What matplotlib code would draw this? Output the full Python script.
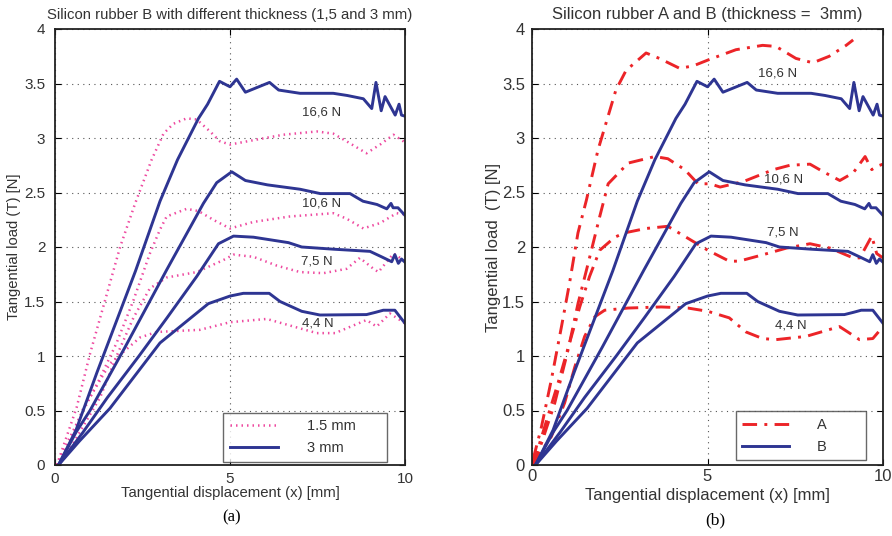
import numpy as np
import matplotlib
matplotlib.use('Agg')
from matplotlib import pyplot as plt

plt.rcParams['font.family'] = ['Liberation Sans', 'DejaVu Sans']

# --- silicon rubber B, 3 mm (same curves in both panels) ---
b166_x = [0.1, 0.6, 1.2, 2.3, 3.0, 3.5, 4.1, 4.36, 4.7, 5.0, 5.19, 5.44, 6.13, 6.39, 7.0, 7.95, 8.35,
          8.81, 9.05, 9.17, 9.32, 9.43, 9.72, 9.83, 9.9, 10.0]
b166_y = [0.0, 0.32, 0.85, 1.78, 2.42, 2.8, 3.18, 3.31, 3.52, 3.47, 3.54, 3.42, 3.51, 3.44, 3.41, 3.41, 3.39,
          3.36, 3.27, 3.51, 3.25, 3.38, 3.21, 3.31, 3.21, 3.2]
b106_x = [0.1, 0.6, 1.0, 2.0, 3.19, 4.24, 4.62, 5.05, 5.44, 6.07, 7.0, 7.58, 8.43, 8.8, 9.2, 9.48, 9.6,
          9.66, 9.8, 10.0]
b106_y = [0.0, 0.3, 0.5, 1.08, 1.79, 2.40, 2.59, 2.69, 2.61, 2.57, 2.53, 2.49, 2.49, 2.42, 2.39, 2.35, 2.40,
          2.36, 2.36, 2.29]
b75_x = [0.1, 0.8, 1.5, 2.4, 3.2, 4.05, 4.67, 5.1, 5.67, 6.67, 7.05, 7.95, 9.0, 9.33, 9.62, 9.71, 9.81,
         9.9, 10.0]
b75_y = [0.0, 0.3, 0.62, 1.0, 1.35, 1.73, 2.03, 2.10, 2.09, 2.04, 2.0, 1.98, 1.96, 1.91, 1.865, 1.93, 1.85,
         1.89, 1.86]
b44_x = [0.1, 0.7, 1.57, 3.0, 4.38, 5.0, 5.38, 6.12, 6.43, 7.05, 7.57, 8.9, 9.15, 9.38, 9.71, 10.0]
b44_y = [0.0, 0.22, 0.52, 1.12, 1.48, 1.55, 1.575, 1.575, 1.50, 1.41, 1.376, 1.38, 1.40, 1.42, 1.42, 1.30]

# --- silicon rubber B, 1.5 mm ---
p166_x = [0.05, 0.14, 0.62, 1.0, 1.43, 1.86, 2.29, 2.76, 3.1, 3.38, 3.76, 4.05, 4.43, 4.71, 5.0, 5.67,
          6.52, 7.48, 7.95, 8.33, 8.9, 9.29, 9.67, 10.0]
p166_y = [0.0, 0.08, 0.53, 1.02, 1.51, 2.0, 2.40, 2.80, 3.04, 3.13, 3.18, 3.17, 3.06, 2.97, 2.94, 2.98,
          3.03, 3.06, 3.04, 2.97, 2.86, 2.94, 3.03, 2.96]
p106_x = [0.05, 0.27, 0.65, 1.29, 1.76, 2.24, 2.71, 3.0, 3.19, 3.76, 4.1, 4.52, 5.0, 5.67, 6.71, 7.95,
          8.33, 8.81, 9.29, 9.76, 10.0]
p106_y = [0.0, 0.15, 0.40, 0.80, 1.12, 1.51, 1.94, 2.16, 2.28, 2.35, 2.33, 2.25, 2.17, 2.23, 2.28, 2.31,
          2.26, 2.17, 2.22, 2.31, 2.30]
p75_x = [0.05, 0.43, 1.29, 1.76, 2.24, 2.71, 3.19, 4.05, 4.81, 5.1, 5.67, 6.33, 7.0, 7.67, 8.33, 8.71,
         9.1, 9.24, 9.67, 10.0]
p75_y = [0.0, 0.15, 0.62, 1.0, 1.35, 1.62, 1.72, 1.77, 1.88, 1.93, 1.91, 1.83, 1.77, 1.76, 1.80, 1.90,
         1.80, 1.77, 1.94, 1.87]
p44_x = [0.05, 0.4, 0.81, 1.57, 2.43, 2.9, 3.5, 4.14, 5.0, 6.05, 6.71, 7.48, 8.0, 8.9, 9.19, 9.57, 10.0]
p44_y = [0.0, 0.2, 0.52, 0.93, 1.17, 1.22, 1.23, 1.24, 1.31, 1.34, 1.28, 1.21, 1.21, 1.33, 1.27, 1.39, 1.30]

# --- silicon rubber A, 3 mm ---
a166_x = [0.03, 0.27, 0.55, 0.84, 1.07, 1.31, 1.55, 1.88, 2.39, 2.68, 3.25, 3.63, 4.2, 4.58, 5.05, 5.81,
          6.57, 6.95, 7.52, 8.0, 8.47, 8.95, 9.15]
a166_y = [0.05, 0.35, 0.78, 1.27, 1.67, 2.13, 2.43, 2.89, 3.44, 3.62, 3.78, 3.73, 3.64, 3.66, 3.72, 3.81,
          3.85, 3.84, 3.73, 3.69, 3.75, 3.85, 3.90]
a106_x = [0.03, 0.27, 0.65, 1.03, 1.31, 1.6, 1.93, 2.17, 2.74, 3.5, 3.87, 4.35, 4.73, 5.07, 5.36, 6.02,
          6.88, 7.35, 7.92, 8.3, 8.77, 9.15, 9.49, 9.68, 9.82, 10.0]
a106_y = [0.0, 0.2, 0.57, 1.06, 1.48, 1.85, 2.28, 2.58, 2.77, 2.83, 2.81, 2.71, 2.58, 2.58, 2.55, 2.60,
          2.71, 2.75, 2.76, 2.69, 2.61, 2.68, 2.83, 2.71, 2.74, 2.76]
a75_x = [0.03, 0.36, 0.74, 1.07, 1.36, 1.64, 1.93, 2.36, 2.64, 3.25, 3.87, 4.39, 5.01, 5.62, 5.9, 6.59,
         7.25, 7.92, 8.49, 9.15, 9.34, 9.68, 9.82, 10.0]
a75_y = [0.0, 0.35, 0.75, 1.12, 1.45, 1.73, 1.97, 2.09, 2.13, 2.17, 2.19, 2.09, 1.97, 1.87, 1.87, 1.93,
         1.99, 2.03, 1.99, 1.90, 1.90, 2.10, 1.94, 1.90]
a44_x = [0.03, 0.17, 0.55, 0.93, 1.22, 1.5, 1.79, 2.07, 2.74, 3.68, 4.44, 5.01, 5.62, 6.1, 6.57, 6.95,
         7.81, 8.76, 9.0, 9.33, 9.71, 10.0]
a44_y = [0.0, 0.08, 0.26, 0.57, 0.90, 1.18, 1.36, 1.42, 1.44, 1.45, 1.44, 1.41, 1.35, 1.22, 1.16, 1.15,
         1.18, 1.27, 1.22, 1.15, 1.16, 1.27]

loads = ['16,6 N', '10,6 N', '7,5 N', '4,4 N']
pos_a = [(7.63, 3.23), (7.63, 2.40), (7.48, 1.87), (7.52, 1.30)]
pos_b = [(7.0, 3.59), (7.16, 2.62), (7.14, 2.13), (7.36, 1.28)]

azul = '#2e3592'
rosa = '#ee4aa0'
verm = '#ec2428'
cinza = '#333333'
pontilhado = (0, (0.6, 1.6))
traco_ponto = (0, (5, 2.5, 1, 2.5))

fig = plt.figure(figsize=(8.92, 5.36), dpi=100)
ax1 = fig.add_axes([55 / 892, 71 / 536, 350 / 892, 436 / 536])
ax2 = fig.add_axes([532 / 892, 71 / 536, 351 / 892, 436 / 536])


def estilo(ax, titulo, ylab, fs_tit, fs_tick, fs_lab, pad_tick, pad_x, pad_y):
    ax.set_xlim(0, 10)
    ax.set_ylim(0, 4)
    ax.set_xticks([0, 5, 10])
    ax.set_yticks(np.arange(0, 4.01, 0.5))
    ax.set_yticklabels(['0', '0.5', '1', '1.5', '2', '2.5', '3', '3.5', '4'])
    ax.grid(True, linestyle=(0, (1, 4)), color='#555555', linewidth=0.8)
    ax.tick_params(direction='in', top=True, right=True, length=4, labelsize=fs_tick,
                   labelcolor=cinza)
    ax.tick_params(axis='y', pad=pad_tick)
    ax.tick_params(axis='x', pad=pad_tick - 2)
    for s in ax.spines.values():
        s.set_linewidth(1.3)
        s.set_color('#222222')
    ax.set_title(titulo, fontsize=fs_tit, color=cinza, pad=7)
    ax.set_xlabel('Tangential displacement (x) [mm]', fontsize=fs_lab, color=cinza, labelpad=pad_x)
    ax.set_ylabel(ylab, fontsize=fs_lab, color=cinza, labelpad=pad_y)


def legenda(ax, hs, nomes, ancora, hlen, hpad):
    leg = ax.legend(hs, nomes, loc='lower right', bbox_to_anchor=ancora, borderaxespad=0,
                    fancybox=False, edgecolor='#444444', fontsize=10.5, handlelength=hlen,
                    borderpad=0.45, handletextpad=hpad, labelspacing=0.55)
    leg.get_frame().set_linewidth(1.0)
    for tx in leg.get_texts():
        tx.set_color(cinza)


# painel (a)
for xs, ys in [(p166_x, p166_y), (p106_x, p106_y), (p75_x, p75_y), (p44_x, p44_y)]:
    ax1.plot(xs, ys, color=rosa, linestyle=pontilhado, linewidth=1.8)
for xs, ys in [(b166_x, b166_y), (b106_x, b106_y), (b75_x, b75_y), (b44_x, b44_y)]:
    ax1.plot(xs, ys, color=azul, linewidth=2.1)
for t, (x, y) in zip(loads, pos_a):
    ax1.text(x, y, t, fontsize=9.5, color=cinza, ha='center', va='center')
estilo(ax1, 'Silicon rubber B with different thickness (1,5 and 3 mm)', 'Tangential load (T) [N]',
       10.7, 11, 10.7, 7, 0, 2)
h1, = ax1.plot([], [], color=rosa, linestyle=pontilhado, linewidth=1.8)
h2, = ax1.plot([], [], color=azul, linewidth=2.1)
legenda(ax1, [h1, h2], ['1.5 mm      ', '3 mm'], (0.949, 0.007), 3.3, 2.0)

# painel (b)
for xs, ys in [(a166_x, a166_y), (a106_x, a106_y), (a75_x, a75_y), (a44_x, a44_y)]:
    ax2.plot(xs, ys, color=verm, linestyle=traco_ponto, linewidth=2.1)
for xs, ys in [(b166_x, b166_y), (b106_x, b106_y), (b75_x, b75_y), (b44_x, b44_y)]:
    ax2.plot(xs, ys, color=azul, linewidth=2.1)
for t, (x, y) in zip(loads, pos_b):
    ax2.text(x, y, t, fontsize=9.5, color=cinza, ha='center', va='center')
estilo(ax2, 'Silicon rubber A and B (thickness =  3mm)', 'Tangential load  (T) [N]',
       12, 12, 12, 5, 3, 1)
h3, = ax2.plot([], [], color=verm, linestyle=traco_ponto, linewidth=2.1)
h4, = ax2.plot([], [], color=azul, linewidth=2.1)
legenda(ax2, [h3, h4], ['A        ', 'B        '], (0.952, 0.011), 3.2, 1.9)

fig.text(232 / 892, 1 - 517 / 536, '(a)', family='Liberation Serif', fontsize=12, ha='center', va='center')
fig.text(715 / 892, 1 - 520 / 536, '(b)', family='Liberation Serif', fontsize=12.5, ha='center', va='center')

fig.savefig('out.png', dpi=100)
